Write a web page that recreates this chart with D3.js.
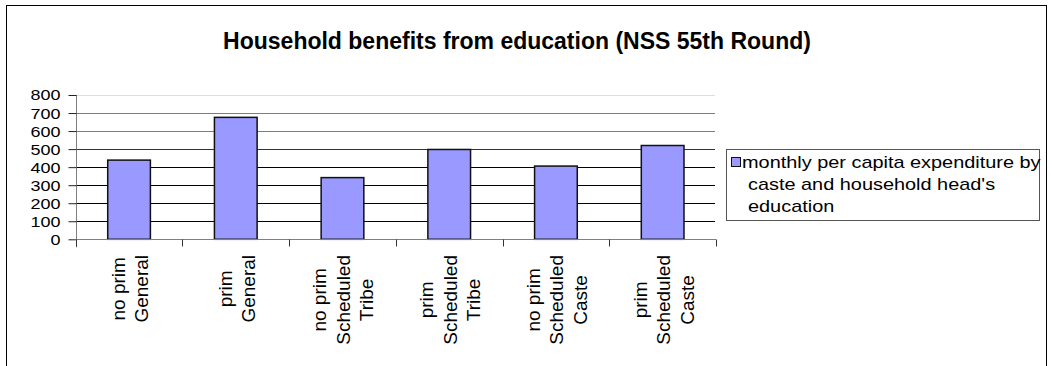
<!DOCTYPE html>
<html>
<head>
<meta charset="utf-8">
<script src="https://cdn.jsdelivr.net/npm/d3@7"></script>
<style>
  body { margin: 0; background: #fff; }
  svg text { font-family: Arial, "Liberation Sans", sans-serif; fill: #000; }
</style>
</head>
<body>
<script>
// data
const categories = [
  ['no prim', 'General'],
  ['prim', 'General'],
  ['no prim', 'Scheduled', 'Tribe'],
  ['prim', 'Scheduled', 'Tribe'],
  ['no prim', 'Scheduled', 'Caste'],
  ['prim', 'Scheduled', 'Caste']
]
const values = [439, 676, 342, 498, 406, 520]
const yTicks = [0, 100, 200, 300, 400, 500, 600, 700, 800]
const title = 'Household benefits from education (NSS 55th Round)'
const legendLines = ['monthly per capita expenditure by', 'caste and household head\'s', 'education']

const W = 1052, H = 366
const PLOT = { left: 75.7, right: 716, top: 95, bottom: 239.3 }
const BAR_FILL = '#9999ff'

// gridline shades as they appear in the picture (top lines washed out)
const gridShade = (v) => v === 800 ? '#dedede' : v >= 600 ? '#7d7d7d' : v === 500 ? '#333' : '#000'

let svg = d3.select('body').append('svg')
  .attr('width', W).attr('height', H)

// outer chart border
svg.append('rect')
  .attr('x', 6.5).attr('y', 5.5)
  .attr('width', 1040).attr('height', 400)
  .attr('fill', 'none').attr('stroke', '#000').attr('stroke-width', 1)

svg.append('text')
  .attr('x', 517).attr('y', 49)
  .attr('text-anchor', 'middle')
  .style('font-size', '23px').style('font-weight', 'bold')
  .text(title)

// scales
let idx = d3.range(categories.length)
let x = d3.scaleBand().domain(idx).range([PLOT.left, PLOT.right])
  .paddingInner(0.6).paddingOuter(0.3)
let xCat = d3.scaleBand().domain(idx).range([PLOT.left, PLOT.right])
let y = d3.scaleLinear().domain([0, 800]).range([PLOT.bottom, PLOT.top])

// gridlines
svg.append('g').attr('class', 'grid')
  .selectAll('line').data(yTicks.filter(d => d > 0))
  .enter().append('line')
    .attr('x1', PLOT.left).attr('x2', PLOT.right - 1)
    .attr('y1', d => Math.round(y(d)) + 0.5).attr('y2', d => Math.round(y(d)) + 0.5)
    .attr('stroke', gridShade).attr('stroke-width', 1)

// bars
svg.append('g').attr('class', 'bars')
  .selectAll('rect').data(values)
  .enter().append('rect')
    .attr('x', (d, i) => x(i))
    .attr('y', d => y(d))
    .attr('width', x.bandwidth())
    .attr('height', d => y(0) - y(d))
    .attr('fill', BAR_FILL)
    .attr('stroke', '#111').attr('stroke-width', 1.5)

// y axis
let yAxis = svg.append('g')
  .attr('transform', 'translate(' + (Math.round(PLOT.left) + 0.5) + ',0)')
  .call(d3.axisLeft(y).tickValues(yTicks).tickSize(8).tickFormat(d3.format('d')))
yAxis.select('.domain').attr('stroke', '#808080').attr('d', 'M0,' + PLOT.top + 'V' + (PLOT.bottom + 8))
yAxis.selectAll('.tick line').attr('stroke', '#222')
yAxis.selectAll('.tick text')
  .attr('x', null).attr('dy', null)
  .attr('dominant-baseline', 'central')
  .attr('transform', 'translate(-16,0) scale(1.2,1)')
  .style('font-size', '15px').style('font-family', 'Arial, "Liberation Sans", sans-serif')

// x axis (category boundaries)
let xAxis = svg.append('g').attr('transform', 'translate(0,' + (Math.round(PLOT.bottom) + 0.5) + ')')
xAxis.append('line')
  .attr('x1', PLOT.left).attr('x2', PLOT.right)
  .attr('stroke', '#808080')
xAxis.selectAll('.tick').data(idx.concat([idx.length]))
  .enter().append('line')
    .attr('class', 'tick')
    .attr('x1', d => Math.round(PLOT.left + d * xCat.step()) + 0.5)
    .attr('x2', d => Math.round(PLOT.left + d * xCat.step()) + 0.5)
    .attr('y1', 0).attr('y2', 7)
    .attr('stroke', '#333')

// rotated multi-line category labels, lines centred on each other, block hanging from y=255
const LABEL_TOP = 255, LINE_GAP = 23.5
let labels = svg.append('g').attr('class', 'xlabels')
categories.forEach((lines, i) => {
  let cx = xCat(i) + xCat.bandwidth() / 2
  let g = labels.append('g')
  let texts = lines.map((s) => g.append('text').style('font-size', '19px').attr('text-anchor', 'middle').text(s))
  let maxW = d3.max(texts, (t) => t.node().getComputedTextLength())
  texts.forEach((t, j) => {
    let bx = cx + 7.5 + (j - (lines.length - 1) / 2) * LINE_GAP
    let cy = LABEL_TOP + maxW / 2
    t.attr('transform', 'translate(' + [bx, cy] + ') rotate(-90)')
  })
})

// legend
let legend = svg.append('g').attr('class', 'legend')
legend.append('rect')
  .attr('x', 726.5).attr('y', 149.5).attr('width', 313).attr('height', 71)
  .attr('fill', '#fff').attr('stroke', '#555')
legend.append('rect')
  .attr('x', 731.5).attr('y', 157.5).attr('width', 9).attr('height', 9)
  .attr('fill', BAR_FILL).attr('stroke', '#111')
legend.selectAll('.ltext').data(legendLines)
  .enter().append('text')
    .attr('class', 'ltext')
    .attr('transform', (d, i) => 'translate(' + [i === 0 ? 742 : 748, 168 + i * 22] + ') scale(1.17,1)')
    .style('font-size', '17px')
    .text(d => d)
</script>
</body>
</html>
